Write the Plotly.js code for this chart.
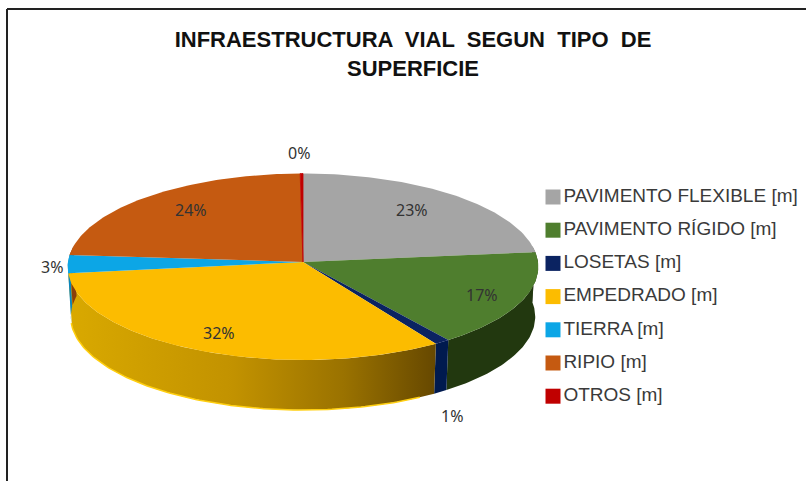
<!DOCTYPE html>
<html>
<head>
<meta charset="utf-8">
<script src="https://cdn.plot.ly/plotly-3.0.1.min.js"></script>
<style>html,body{margin:0;padding:0;background:#fff}#c{width:806px;height:481px}</style>
</head>
<body>
<div id="c"></div>
<script>
// ---- data ----
var categories = ["PAVIMENTO FLEXIBLE [m]","PAVIMENTO RÍGIDO [m]","LOSETAS [m]","EMPEDRADO [m]","TIERRA [m]","RIPIO [m]","OTROS [m]"];
var shares = [23.3, 16.6, 1.0, 32.2, 3.1, 23.6, 0.2];
var topColors = ["#a5a5a5","#4f7e2e","#0b2361","#fcbc00","#0ca6e6","#c55a11","#c00000"];
var wallColors = ["#6b6b6b","#22380f","#001a4f","#b88a00","#0a86bc","#8a3f0b","#800000"];
var chartTitle = "INFRAESTRUCTURA  VIAL  SEGUN  TIPO  DE<br>SUPERFICIE";

// ---- label placement (style, not data) ----
var labelRadius = [0.7, 0.75, 1, 0.7, 1, 0.7, 1];
var labelDx = [2, 15, 10, -12, -16, -2, -3];
var labelDy = [-5, 4, 74, 10, 3, -6, -21];

// ---- projection of the tilted disc ----
var cx = 303, cy = 262, R = 235, B = 93, K = 0.051, DEPTH = 50, SHRINK = 0.987;
function project(deg, r, low) {
  var t = deg * Math.PI / 180, u = Math.sin(t) * r, v = -Math.cos(t) * r, s = 1 / (1 - K * v);
  var x = cx + R * u * s, y = cy + B * v * s;
  if (low) { x = cx + (x - cx) * SHRINK; y += DEPTH; }
  return [x, y];
}
function arc(a0, a1, low) {
  var n = Math.max(2, Math.ceil(Math.abs(a1 - a0))), pts = [];
  for (var i = 0; i <= n; i++) pts.push(project(a0 + (a1 - a0) * i / n, 1, low));
  return pts;
}
function xs(p) { return p.map(function (q) { return q[0]; }); }
function ys(p) { return p.map(function (q) { return q[1]; }); }

var total = shares.reduce(function (a, b) { return a + b; }, 0);
var starts = [], ends = [], acc = 0;
shares.forEach(function (v) { starts.push(acc / total * 360); acc += v; ends.push(acc / total * 360); });

var traces = [];
// side walls
categories.forEach(function (c, i) {
  var a0 = Math.max(starts[i], 80), a1 = Math.min(ends[i], 280);
  if (a1 <= a0) return;
  var poly = arc(a0, a1, false).concat(arc(a1, a0, true));
  poly.push(poly[0]);
  var tr = {x: xs(poly), y: ys(poly), mode: "lines", line: {width: 0}, fill: "toself",
            fillcolor: wallColors[i], hoverinfo: "skip", showlegend: false};
  if (c.indexOf("EMPEDRADO") === 0) {
    tr.fillgradient = {type: "horizontal", colorscale: [[0, "#d9a900"], [0.45, "#c29200"], [0.75, "#9a7200"], [1, "#664800"]]};
  }
  traces.push(tr);
  if (c.indexOf("EMPEDRADO") === 0) {
    var rim = arc(a0 + 4, a1, true);
    traces.push({x: xs(rim), y: ys(rim), mode: "lines", line: {width: 1.5, color: "#ffcf10"}, hoverinfo: "skip", showlegend: false});
  }
});
// top faces
categories.forEach(function (c, i) {
  var poly = [project(0, 0)].concat(arc(starts[i], ends[i], false));
  poly.push(poly[0]);
  traces.push({x: xs(poly), y: ys(poly), mode: "lines", line: {width: i === 6 ? 0.8 : 0, color: topColors[i]}, fill: "toself",
               fillcolor: topColors[i], hoverinfo: "skip", showlegend: false});
});
// legend as markers with text
var legX = 553, legY0 = 197, legStep = 33.2;
traces.push({
  x: categories.map(function () { return legX; }),
  y: categories.map(function (c, i) { return legY0 + i * legStep; }),
  mode: "markers+text", text: categories, textposition: "middle right",
  textfont: {family: "Liberation Sans, Arial, sans-serif", size: 19, color: "#3a3a3a"},
  marker: {symbol: "square", size: 15, color: topColors}, hoverinfo: "skip", showlegend: false, cliponaxis: false
});

var annotations = categories.map(function (c, i) {
  var p = project((starts[i] + ends[i]) / 2, labelRadius[i], false);
  return {x: p[0], y: p[1], xref: "x", yref: "y", showarrow: false, text: Math.round(shares[i] / total * 100) + "%",
          xshift: labelDx[i], yshift: -labelDy[i],
          font: {family: "Noto Sans, sans-serif", size: 16, color: "#333333"}};
});

var layout = {
  width: 806, height: 481, margin: {l: 0, r: 0, t: 0, b: 0}, paper_bgcolor: "#fff", plot_bgcolor: "#fff",
  xaxis: {range: [0, 806], visible: false, fixedrange: true},
  yaxis: {range: [481, 0], visible: false, fixedrange: true},
  title: {text: chartTitle, x: 413 / 806, xanchor: "center", y: 1 - 47 / 481, yanchor: "top",
          font: {family: "Liberation Sans, Arial, sans-serif", size: 22, color: "#111111", weight: "bold"}},
  annotations: annotations,
  shapes: [
    {type: "line", xref: "x", yref: "y", x0: 7, x1: 7, y0: 9, y1: 481, line: {color: "#222222", width: 2}},
    {type: "line", xref: "x", yref: "y", x0: 7, x1: 806, y0: 9, y1: 9, line: {color: "#222222", width: 2}}
  ],
  showlegend: false
};
Plotly.newPlot("c", traces, layout, {displayModeBar: false, staticPlot: true});
</script>
</body>
</html>
